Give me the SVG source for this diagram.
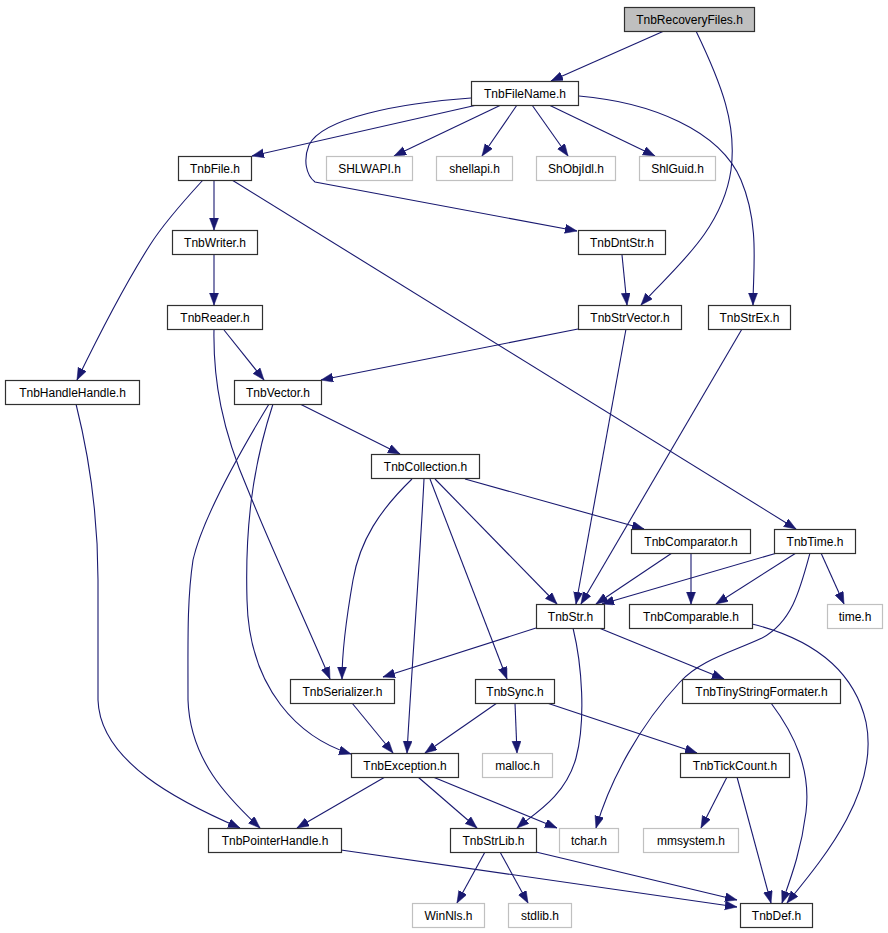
<svg xmlns="http://www.w3.org/2000/svg" width="888" height="933" viewBox="0 0 888 933">
<style>
.n rect{fill:#fff;stroke:#303030;stroke-width:1.2}
.g rect{fill:#fff;stroke:#c0c0c0;stroke-width:1.2}
.r rect{fill:#bfbfbf;stroke:#303030;stroke-width:1.2}
text{font-family:"Liberation Sans",Arial,sans-serif;font-size:12px;fill:#000;text-anchor:middle}
#edges path{fill:none;stroke:#191970;stroke-width:1.1;marker-end:url(#ah)}
</style>
<defs>
<marker id="ah" markerUnits="userSpaceOnUse" markerWidth="13" markerHeight="10" refX="12" refY="4.5" orient="auto">
<path d="M0,0 L12,4.5 L0,9 z" fill="#191970" stroke="#191970" stroke-width="0.5"/>
</marker>
</defs>
<rect width="888" height="933" fill="#fff"/>
<g id="edges">
<path d="M664,31 L551,81"/>
<path d="M696,31 C722,85 737,125 731,170 C722,232 672,270 641,305"/>
<path d="M477,105 L252,156"/>
<path d="M471,98 C400,103 322,118 309,145 C303,160 306,175 315,182 L577,231"/>
<path d="M501,105 L394,156"/>
<path d="M517,105 L482,156"/>
<path d="M532,105 L568,156"/>
<path d="M549,105 L655,156"/>
<path d="M579,96 C650,102 720,130 741,180 C760,225 753,270 753,305"/>
<path d="M214,180 L214,230"/>
<path d="M203,180 C180,205 162,226 150,245 C120,292 95,343 77,380"/>
<path d="M232,180 L796,529"/>
<path d="M214,255 L214,305"/>
<path d="M622,255 L627,305"/>
<path d="M578,329 L321,380"/>
<path d="M626,329 L576,604"/>
<path d="M742,329 L581,604"/>
<path d="M224,330 L264,380"/>
<path d="M214,329 C213,380 222,430 248,490 C272,550 306,622 330,679"/>
<path d="M300,404 L400,454"/>
<path d="M269,404 C240,452 202,520 193,560 C187,600 188,640 188,700 C190,760 228,798 260,828"/>
<path d="M273,404 C252,468 245,530 247,600 C249,690 300,738 351,754"/>
<path d="M76,404 C90,460 98,520 98,580 L98,700 C100,762 180,802 240,828"/>
<path d="M412,479 C380,510 360,540 353,580 C346,620 342,650 342,679"/>
<path d="M424,479 C420,560 411,680 407,753"/>
<path d="M430,479 L507,679"/>
<path d="M435,479 L557,604"/>
<path d="M465,479 L644,529"/>
<path d="M672,553 L596,604"/>
<path d="M691,553 L691,604"/>
<path d="M777,553 L602,604"/>
<path d="M796,553 L716,604"/>
<path d="M821,553 L844,604"/>
<path d="M810,553 C800,590 792,622 762,638 C732,652 700,660 680,682 C640,725 610,780 596,828"/>
<path d="M752,624 C800,636 852,662 866,722 C880,792 822,860 787,903"/>
<path d="M536,628 L383,677"/>
<path d="M573,628 C582,665 586,720 576,758 C565,798 532,815 517,828"/>
<path d="M599,628 L724,679"/>
<path d="M352,703 L393,753"/>
<path d="M497,703 L425,753"/>
<path d="M515,703 L517,753"/>
<path d="M547,703 L697,753"/>
<path d="M385,777 L297,828"/>
<path d="M418,777 L477,828"/>
<path d="M433,777 L557,828"/>
<path d="M771,703 C795,735 811,770 806,812 C801,852 790,880 782,903"/>
<path d="M727,777 L701,828"/>
<path d="M737,777 L771,903"/>
<path d="M341,850 L737,907"/>
<path d="M536,852 L737,900"/>
<path d="M485,852 L457,903"/>
<path d="M500,852 L528,903"/>
</g>
<g id="n-TnbRecoveryFiles" class="r"><rect x="624.5" y="7.5" width="130" height="24"/><text x="689.5" y="24">TnbRecoveryFiles.h</text></g>
<g id="n-TnbFileName" class="n"><rect x="471.5" y="81.5" width="107" height="24"/><text x="525" y="98">TnbFileName.h</text></g>
<g id="n-TnbFile" class="n"><rect x="178.5" y="156.5" width="73" height="24"/><text x="215" y="173">TnbFile.h</text></g>
<g id="n-SHLWAPI" class="g"><rect x="326.5" y="156.5" width="86" height="24"/><text x="369.5" y="173">SHLWAPI.h</text></g>
<g id="n-shellapi" class="g"><rect x="436.5" y="156.5" width="76" height="24"/><text x="474.5" y="173">shellapi.h</text></g>
<g id="n-ShObjIdl" class="g"><rect x="536.5" y="156.5" width="79" height="24"/><text x="576" y="173">ShObjIdl.h</text></g>
<g id="n-ShlGuid" class="g"><rect x="639.5" y="156.5" width="76" height="24"/><text x="677.5" y="173">ShlGuid.h</text></g>
<g id="n-TnbWriter" class="n"><rect x="172.5" y="230.5" width="85" height="24"/><text x="215" y="247">TnbWriter.h</text></g>
<g id="n-TnbDntStr" class="n"><rect x="578.5" y="230.5" width="87" height="24"/><text x="622" y="247">TnbDntStr.h</text></g>
<g id="n-TnbReader" class="n"><rect x="167.5" y="305.5" width="95" height="24"/><text x="215" y="322">TnbReader.h</text></g>
<g id="n-TnbStrVector" class="n"><rect x="578.5" y="305.5" width="103" height="24"/><text x="630" y="322">TnbStrVector.h</text></g>
<g id="n-TnbStrEx" class="n"><rect x="708.5" y="305.5" width="82" height="24"/><text x="749.5" y="322">TnbStrEx.h</text></g>
<g id="n-TnbHandleHandle" class="n"><rect x="5.5" y="380.5" width="134" height="24"/><text x="72.5" y="397">TnbHandleHandle.h</text></g>
<g id="n-TnbVector" class="n"><rect x="234.5" y="380.5" width="87" height="24"/><text x="278" y="397">TnbVector.h</text></g>
<g id="n-TnbCollection" class="n"><rect x="371.5" y="454.5" width="108" height="24"/><text x="425.5" y="471">TnbCollection.h</text></g>
<g id="n-TnbComparator" class="n"><rect x="631.5" y="529.5" width="119" height="24"/><text x="691" y="546">TnbComparator.h</text></g>
<g id="n-TnbTime" class="n"><rect x="774.5" y="529.5" width="81" height="24"/><text x="815" y="546">TnbTime.h</text></g>
<g id="n-TnbStr" class="n"><rect x="536.5" y="604.5" width="68" height="24"/><text x="570.5" y="621">TnbStr.h</text></g>
<g id="n-TnbComparable" class="n"><rect x="629.5" y="604.5" width="123" height="24"/><text x="691" y="621">TnbComparable.h</text></g>
<g id="n-time" class="g"><rect x="827.5" y="604.5" width="55" height="24"/><text x="855" y="621">time.h</text></g>
<g id="n-TnbSerializer" class="n"><rect x="290.5" y="679.5" width="104" height="24"/><text x="342.5" y="696">TnbSerializer.h</text></g>
<g id="n-TnbSync" class="n"><rect x="475.5" y="679.5" width="79" height="24"/><text x="515" y="696">TnbSync.h</text></g>
<g id="n-TnbTinyStringFormater" class="n"><rect x="682.5" y="679.5" width="158" height="24"/><text x="761.5" y="696">TnbTinyStringFormater.h</text></g>
<g id="n-TnbException" class="n"><rect x="351.5" y="753.5" width="107" height="24"/><text x="405" y="770">TnbException.h</text></g>
<g id="n-malloc" class="g"><rect x="482.5" y="753.5" width="70" height="24"/><text x="517.5" y="770">malloc.h</text></g>
<g id="n-TnbTickCount" class="n"><rect x="680.5" y="753.5" width="109" height="24"/><text x="735" y="770">TnbTickCount.h</text></g>
<g id="n-TnbPointerHandle" class="n"><rect x="208.5" y="828.5" width="133" height="24"/><text x="275" y="845">TnbPointerHandle.h</text></g>
<g id="n-TnbStrLib" class="n"><rect x="450.5" y="828.5" width="86" height="24"/><text x="493.5" y="845">TnbStrLib.h</text></g>
<g id="n-tchar" class="g"><rect x="559.5" y="828.5" width="59" height="24"/><text x="589" y="845">tchar.h</text></g>
<g id="n-mmsystem" class="g"><rect x="643.5" y="828.5" width="95" height="24"/><text x="691" y="845">mmsystem.h</text></g>
<g id="n-WinNls" class="g"><rect x="412.5" y="903.5" width="72" height="24"/><text x="448.5" y="920">WinNls.h</text></g>
<g id="n-stdlib" class="g"><rect x="508.5" y="903.5" width="63" height="24"/><text x="540" y="920">stdlib.h</text></g>
<g id="n-TnbDef" class="n"><rect x="740.5" y="903.5" width="72" height="24"/><text x="776.5" y="920">TnbDef.h</text></g>
</svg>
